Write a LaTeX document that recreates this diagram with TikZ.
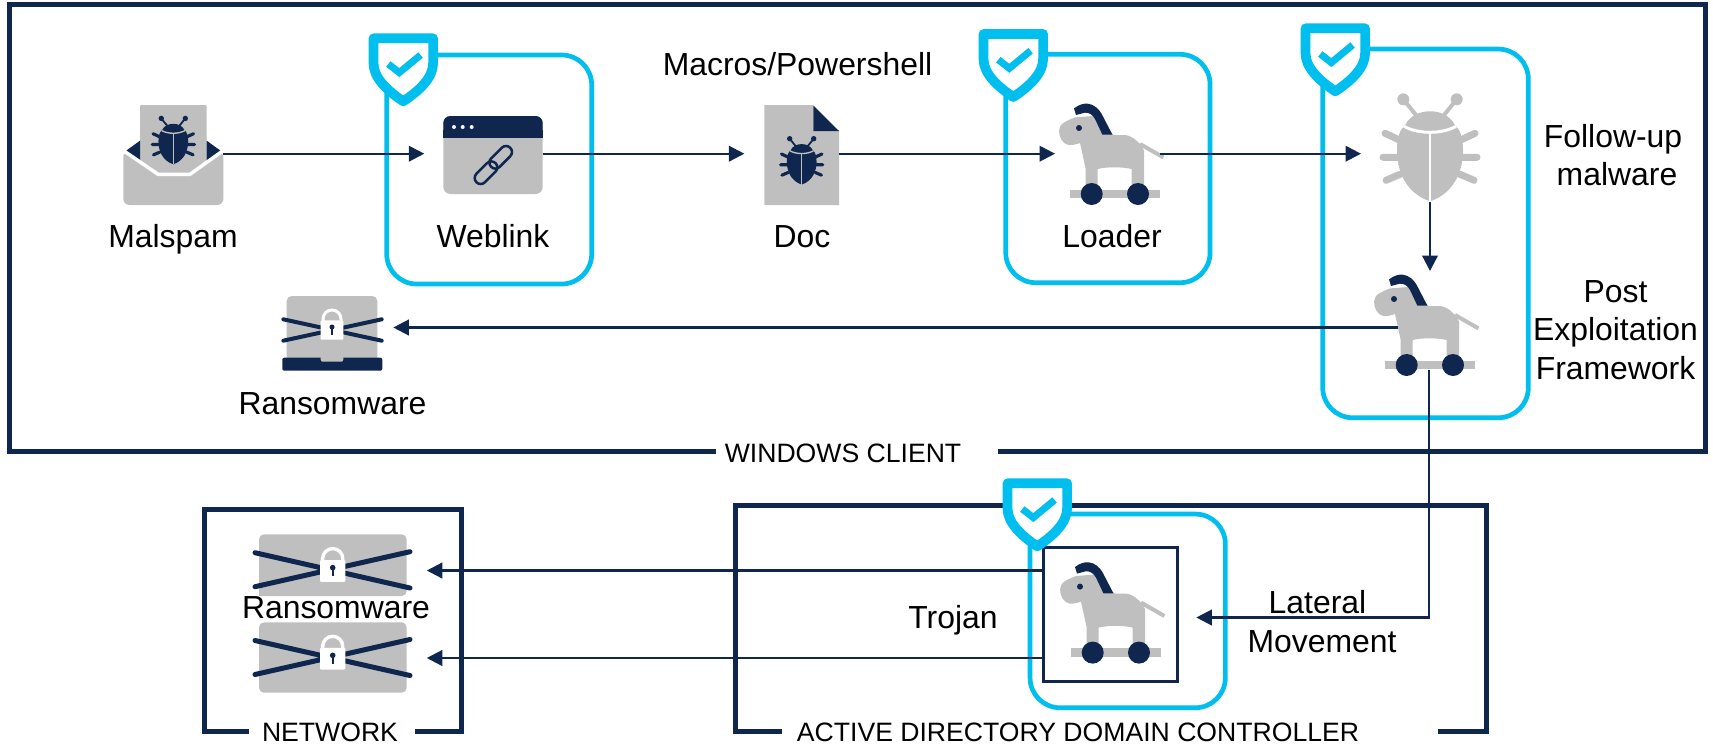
\documentclass[tikz,border=0pt]{standalone}
\usepackage{fontspec}
\setmainfont{Liberation Sans}
\usepackage{tikz}
\usetikzlibrary{positioning,arrows.meta}
\definecolor{navy}{HTML}{0F274F}
\definecolor{grayfill}{HTML}{BFBFBF}
\definecolor{guardblue}{HTML}{00BEEE}
\tikzset{frame/.style={draw=navy,line width=5pt}}
\tikzset{guard/.style={draw=guardblue,line width=4.7pt,rounded corners=30pt,outer sep=0pt}}
\tikzset{slot/.style={inner sep=0pt,outer sep=0pt}}
\tikzset{flow/.style={draw=navy,line width=2.3pt,-{Triangle[length=15.5pt,width=15.5pt]}}}
\tikzset{lbl/.style={font=\fontsize{31.9}{38.5}\selectfont,text=black,inner sep=0pt,align=center}}
\tikzset{tag/.style={font=\fontsize{26.6}{30}\selectfont,text=black,inner sep=0pt,anchor=base}}

% Beetle, origin at its middle: x, y, scale, colour, colour of the seams
\newcommand{\bugicon}[5]{
  \begin{scope}[shift={(#1,#2)},scale=#3]
    \draw[#4,line width=#3*4pt] (-26.7,-48)--(-13,-31) (26.7,-48)--(13,-31);
    \fill[#4] (-26.7,-48) circle[radius=6] (26.7,-48) circle[radius=6];
    \foreach \s in {-1,1} {
      \draw[#4,line width=#3*7pt,line cap=round] (\s*45,-14)--(\s*30,-7) (\s*47,10)--(\s*30,10) (\s*44,33)--(\s*30,27);
    }
    \fill[#4] (0,54) .. controls (-24,46) and (-33,24) .. (-33,3) .. controls (-33,-10) and (-30,-18) .. (-25,-22)
      .. controls (-20,-32) and (-10,-36) .. (0,-36) .. controls (10,-36) and (20,-32) .. (25,-22)
      .. controls (30,-18) and (33,-10) .. (33,3) .. controls (33,24) and (24,46) .. (0,54) -- cycle;
    \draw[#5,line width=#3*3pt] (-26,-21) .. controls (-12,-13) and (12,-13) .. (26,-21);
    \draw[#5,line width=#3*2.5pt] (0,-16)--(0,54);
  \end{scope}
}
% Toy horse on wheels, origin on its belly
\newcommand{\horseicon}[2]{
  \begin{scope}[shift={(#1,#2)}]
    \draw[grayfill,line width=4pt] (28.3,-11.7)--(51.7,1.7);
    \fill[grayfill] (-52.7,-25) .. controls (-52.7,-32) and (-45,-35) .. (-36.7,-38.3)
      -- (-15,-40) -- (1.7,-20.7) -- (12,-20.7) .. controls (20,-20.7) and (25,-15) .. (30,-10)
      -- (32.3,-5) -- (32.3,35) -- (20,35) -- (20,13.3) .. controls (10,11) and (-5,11) .. (-14,13.3)
      -- (-14,35) -- (-26,35) -- (-26,13.3) -- (-31.7,-12.7)
      .. controls (-36,-11) and (-40,-10.5) .. (-43.3,-10.7) .. controls (-49,-12) and (-52.7,-18) .. (-52.7,-25) -- cycle;
    \fill[navy] (-37.7,-47.3) .. controls (-33,-51) and (-28,-52.5) .. (-24,-52)
      .. controls (-18,-51.5) and (-13,-47) .. (-10,-41.7) -- (0.7,-21) -- (-9.3,-21) -- (-16.7,-36.7)
      .. controls (-19,-41) and (-23,-43.5) .. (-27,-43) -- (-35.7,-40.7) -- cycle;
    \fill[navy] (-32.7,-27.7) circle[radius=3];
    \fill[grayfill] (-41.7,34) rectangle (48.3,42.7);
    \fill[navy] (-20,38.3) circle[radius=11] (26.3,38.3) circle[radius=11];
  \end{scope}
}
% Shield with a tick, origin at the middle of its top edge
\newcommand{\shieldicon}[2]{
  \begin{scope}[shift={(#1,#2)}]
    \draw[guardblue,fill=white,line width=9.7pt,line join=round] (-29.8,5)--(29.8,5)--(29.8,30)
      .. controls (29.8,45) and (15,58) .. (0,68) .. controls (-15,58) and (-29.8,45) .. (-29.8,30) -- cycle;
    \draw[guardblue,line width=7pt] (-15,30.7)--(-4,39.3)--(17.3,21.7);
  \end{scope}
}
% Padlock, origin in the middle of its body: x, y, scale
\newcommand{\lockicon}[3]{
  \begin{scope}[shift={(#1,#2)},scale=#3]
    \draw[white,line width=#3*3pt] (-9,-9) -- (-9,-11) arc[start angle=180,end angle=0,x radius=9,y radius=-9] -- (9,-9);
    \fill[white,rounded corners=1pt] (-11.3,-9.7) rectangle (11.3,9.7);
    \fill[navy] (0,-3) circle[radius=2.5];
    \draw[navy,line width=#3*2pt] (0,-3)--(0,4.5);
  \end{scope}
}

\begin{document}
\begin{tikzpicture}[x=1pt,y=-1pt]
  \useasboundingbox (0,0) rectangle (1713,745);

  % Frames with a gap for their titles
  \draw[frame] (716,451)--(9.2,451)--(9.2,4.2)--(1705,4.2)--(1705,451)--(997.7,451);
  \draw[frame] (249,731.7)--(204.7,731.7)--(204.7,509)--(461,509)--(461,731.7)--(415,731.7);
  \draw[frame] (781.7,731)--(735,731)--(735,505.7)--(1486,505.7)--(1486,731)--(1438.3,731);

  % Blue boxes
  \node[guard,minimum width=205pt,minimum height=229pt] (webguard) at (489.2,169.5) {};
  \node[guard,minimum width=204.3pt,minimum height=228.4pt] (loadguard) at (1107.9,168.5) {};
  \node[guard,minimum width=205.6pt,minimum height=368.7pt] (postguard) at (1425.5,233.4) {};
  \node[guard,minimum width=195.3pt,minimum height=193.7pt] (trojguard) at (1127.7,610.9) {};
  \node[draw=navy,line width=2.5pt,outer sep=0pt,minimum width=134pt,minimum height=134.4pt] (troj) at (1110.3,614.5) {};

  % Places of the icons
  \node[slot,minimum width=100pt,minimum height=100pt] (mal) at (173.3,153.7) {};
  \node[slot,minimum width=99.4pt,minimum height=78pt] (web) at (493,153.7) {};
  \node[slot,minimum width=74.7pt,minimum height=100pt] (doc) at (801.7,153.7) {};
  \node[slot,minimum width=97pt,minimum height=100pt] (loader) at (1111.5,153.7) {};
  \node[slot,minimum width=100pt,minimum height=96pt] (follow) at (1430,153.7) {};
  \node[slot,minimum width=62pt,minimum height=85pt] (post) at (1429,327.5) {};
  \node[slot,minimum width=100pt,minimum height=75pt] (laptop) at (332.3,327.5) {};
  \node[slot,minimum width=147.7pt,minimum height=70pt] (netone) at (332.9,570.5) {};
  \node[slot,minimum width=147.7pt,minimum height=70pt] (nettwo) at (332.9,658) {};

  % Mail
  \fill[grayfill,rounded corners=1pt] (140,105) rectangle (206.7,174);
  \fill[navy] (125.7,151)--(140,140.7)--(140,161.7)--cycle (221,151)--(206.7,140.7)--(206.7,161.7)--cycle;
  \bugicon{173.3}{140}{0.45}{navy}{grayfill}
  \fill[grayfill,rounded corners=6pt] (123.3,151)--(123.3,205)--(223.3,205)--(223.3,151)--(190,174)--(158,174)--cycle;
  \draw[white,line width=3.5pt] (123.3,150.5)--(158,174.3)--(190,174.3)--(223.3,150.5);

  % Browser window
  \fill[grayfill,rounded corners=7pt] (443.3,116) rectangle (542.7,194);
  \fill[navy,rounded corners=7pt] (443.3,137.7)--(443.3,116)--(542.7,116)--(542.7,137.7)--cycle;
  \fill[navy] (443.3,130) rectangle (542.7,137.7);
  \foreach \i in {454,462.7,471.7}
    \fill[white!85!grayfill] (\i,127) circle[radius=2];
  \foreach \i/\j in {486/172.7,500.7/157.3}
    \draw[navy,line width=2.5pt,rounded corners=6pt,shift={(\i,\j)},rotate=45] (-13.5,-6) rectangle (13.5,6);

  % File
  \fill[grayfill] (764.3,105)--(813.3,105)--(813.3,130.7)--(839,130.7)--(839,205)--(764.3,205)--cycle;
  \fill[navy] (813.3,105.5)--(839,131)--(813.3,131)--cycle;
  \bugicon{801.7}{160.3}{0.45}{navy}{grayfill}

  % Large icons
  \horseicon{1111.7}{155.7}
  \bugicon{1430}{147.3}{1}{grayfill}{white}
  \horseicon{1426.7}{326.7}
  \horseicon{1112.7}{614.3}

  % Laptop
  \fill[grayfill,rounded corners=5pt] (286.7,296) rectangle (377.3,362);
  \fill[navy,rounded corners=2pt] (282.3,357.7) rectangle (382.3,370.7);
  \fill[grayfill,rounded corners=2pt] (320.7,355) rectangle (343.3,361.7);
  \draw[navy,line width=4pt,line cap=round] (283.3,319.3)--(381.7,340.7) (283.3,340.7)--(381.7,319.3);
  \lockicon{332}{330}{1}

  % Locked servers
  \fill[grayfill,rounded corners=5pt] (259,596)--(259,534.3)--(406.7,534.3)--(406.7,596)[sharp corners]--cycle;
  \fill[grayfill,rounded corners=5pt] (259,622.3) rectangle (406.7,692.7);
  \draw[navy,line width=5pt,line cap=round] (255,552.7)--(410,588) (255,586.7)--(410,551.7);
  \draw[navy,line width=5pt,line cap=round] (255,640.5)--(410,675.5) (255,674.5)--(410,639.5);
  \lockicon{332.7}{571}{1.12}
  \lockicon{332.7}{658.7}{1.12}

  % Connections
  \draw[flow,shorten >=19pt] (mal.east)--(web.west);
  \draw[flow,shorten >=20pt] (web.east)--(doc.west);
  \draw[flow,shorten >=8pt] (doc.east)--(loader.west);
  \draw[flow,shorten >=19pt] (loader.east)--(follow.west);
  \draw[flow,shorten >=14pt] (follow.south)--(follow.south |- post.north);
  \draw[flow,shorten >=11pt] (post.west)--(laptop.east);
  \draw[flow,shorten >=19pt] (post.south) |- ([yshift=-3pt]troj.east);
  \draw[flow,shorten >=20pt] (netone.east -| troj.west)--(netone.east);
  \draw[flow,shorten >=20pt] (nettwo.east -| troj.west)--(nettwo.east);

  % Shields sit on the blue boxes
  \foreach \i/\j in {403.3/33.3,1013.3/29,1335.3/23.3,1037.3/478.3} {
    \shieldicon{\i}{\j}
  }

  % Labels
  \node[lbl,anchor=base] (mallbl) at (173,247.3) {Malspam};
  \node[lbl,anchor=base] (weblbl) at (493,247.3) {Weblink};
  \node[lbl,anchor=base] (doclbl) at (802,247.3) {Doc};
  \node[lbl,anchor=base] (loadlbl) at (1112,247.3) {Loader};
  \node[lbl,anchor=base] (macrolbl) at (797.5,75.5) {Macros/Powershell};
  \node[lbl] (followlbl) at (1613,155) {Follow-up\\\hspace*{8pt}malware};
  \node[lbl] (postlbl) at (1615.5,330) {Post\\Exploitation\\Framework};
  \node[lbl,anchor=base] (ranlbl) at (332.5,414.3) {Ransomware};
  \node[lbl,anchor=base] (netlbl) at (336,618) {Ransomware};
  \node[lbl,anchor=base] (trojlbl) at (953,628.3) {Trojan};
  \node[lbl] (latlbl) at (1322,621.5) {Lateral\hspace*{9pt}\\Movement};
  \node[tag] (wintag) at (843,462.7) {WINDOWS CLIENT};
  \node[tag] (nettag) at (330,741.7) {NETWORK};
  \node[tag] (adtag) at (1078,741.5) {ACTIVE DIRECTORY DOMAIN CONTROLLER};
\end{tikzpicture}
\end{document}
